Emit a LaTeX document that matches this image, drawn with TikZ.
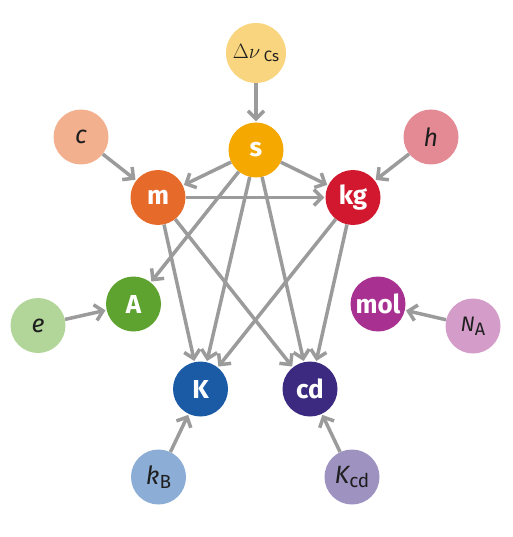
\documentclass[tikz,border=0pt]{standalone}
\usepackage{fontspec}
\setmainfont{Fira Sans}
\usetikzlibrary{arrows.meta}
\definecolor{cDnu}{HTML}{F8D57E}
\definecolor{cs}{HTML}{F4A800}
\definecolor{cc}{HTML}{F3B08E}
\definecolor{cm}{HTML}{E66A2A}
\definecolor{ckg}{HTML}{D2182F}
\definecolor{ch}{HTML}{E48A95}
\definecolor{cA}{HTML}{5EA22F}
\definecolor{ce}{HTML}{B2D59A}
\definecolor{cmol}{HTML}{A83090}
\definecolor{cNA}{HTML}{D49DC9}
\definecolor{cK}{HTML}{1B5BA6}
\definecolor{ckB}{HTML}{8CADD5}
\definecolor{ccd}{HTML}{3C2A80}
\definecolor{cKcd}{HTML}{9E92C1}
\definecolor{arrgray}{HTML}{9B9B9B}
\definecolor{textdark}{HTML}{1E1E1E}
\tikzset{
  unitnode/.style={circle, fill=#1, minimum size=55pt, inner sep=0pt, text=white,
    font=\fontsize{26}{26}\selectfont\bfseries},
  constnode/.style={circle, fill=#1, minimum size=55pt, inner sep=0pt, text=textdark,
    font=\fontsize{25}{25}\selectfont\itshape},
  arr/.style={draw=arrgray, line width=3.5pt, -{Straight Barb[length=8pt,width=16pt]}, shorten >=1pt}
}
\newcommand{\subup}[2]{{\upshape\fontsize{#1}{#1}\selectfont #2}}
\begin{document}
\begin{tikzpicture}[x=1pt,y=-1pt]
\useasboundingbox (0,0) rectangle (512,537);
\node[constnode=cDnu, minimum size=60pt] (dnu) at (256,53)
  {\fontsize{22}{22}\selectfont$\Delta\nu$\,\raisebox{-3pt}{\subup{15}{Cs}}};
\node[unitnode=cs] (s) at (256,150) {s};
\node[constnode=cc] (c) at (81,137) {c};
\node[constnode=ch] (h) at (431,137) {h};
\node[unitnode=cm] (m) at (158,197.5) {m};
\node[unitnode=ckg] (kg) at (353,197.5) {kg};
\node[unitnode=cA] (A) at (133.5,304) {A};
\node[constnode=ce] (e) at (38,325.5) {e};
\node[unitnode=cmol] (mol) at (378,304) {mol};
\node[constnode=cNA] (NA) at (473,326) {\fontsize{21}{21}\selectfont N\raisebox{-4pt}{\subup{18}{A}}};
\node[unitnode=cK] (K) at (200.5,389) {K};
\node[unitnode=ccd] (cd) at (310,389) {cd};
\node[constnode=ckB] (kB) at (158.5,477) {k\raisebox{-4pt}{\subup{19}{B}}};
\node[constnode=cKcd] (Kcd) at (352,477) {K\raisebox{-4pt}{\subup{19}{cd}}};
\draw[arr] (dnu) -- (s);
\draw[arr] (c) -- (m);
\draw[arr] (h) -- (kg);
\draw[arr] (s) -- (m);
\draw[arr] (s) -- (kg);
\draw[arr] (s) -- (A);
\draw[arr] (s) -- (K);
\draw[arr] (s) -- (cd);
\draw[arr] (m) -- (kg);
\draw[arr] (m) -- (K);
\draw[arr] (m) -- (cd);
\draw[arr] (kg) -- (K);
\draw[arr] (kg) -- (cd);
\draw[arr] (e) -- (A);
\draw[arr] (NA) -- (mol);
\draw[arr] (kB) -- (K);
\draw[arr] (Kcd) -- (cd);
\end{tikzpicture}
\end{document}
